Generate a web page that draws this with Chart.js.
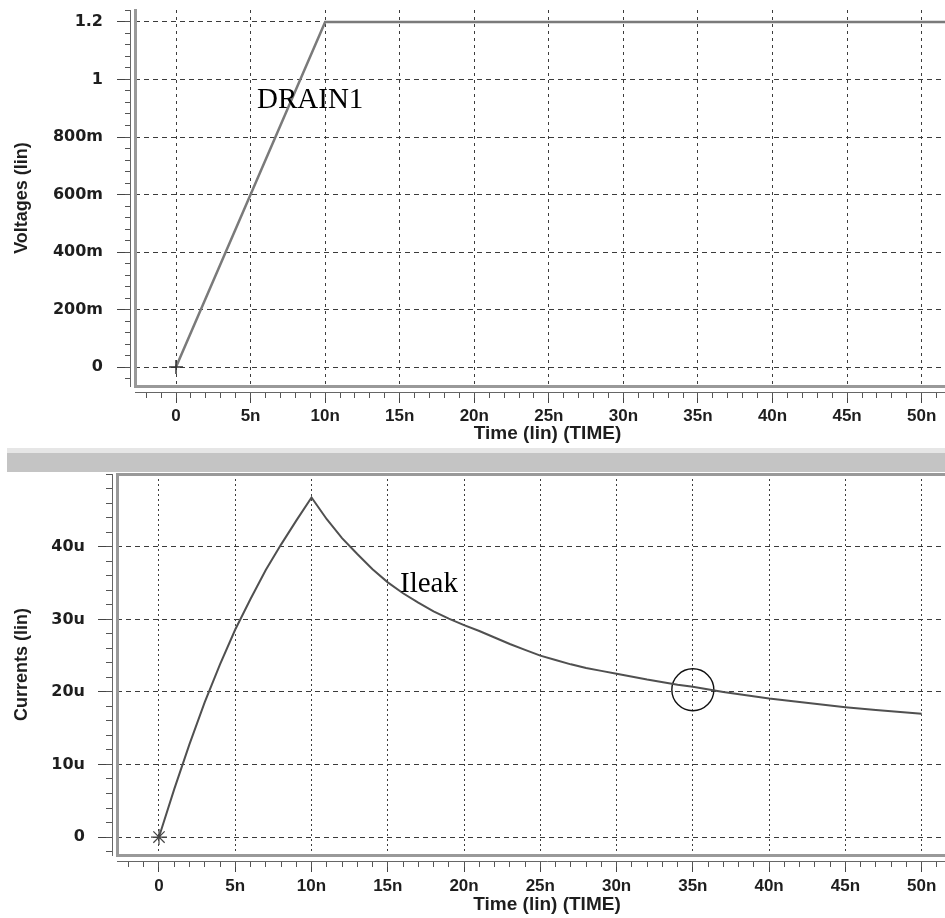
<!DOCTYPE html>
<html>
<head>
<meta charset="utf-8">
<script src="https://cdn.jsdelivr.net/npm/chart.js@4.4.1/dist/chart.umd.min.js"></script>
<style>
  html, body { margin: 0; padding: 0; background: #fff; overflow: hidden; }
  body { width: 945px; height: 918px; position: relative; }
  #top-chart { position: absolute; left: 0; top: 0; }
  #divider { position: absolute; left: 7px; top: 448px; width: 938px; height: 19px;
             background: #c4c4c4; border-top: 5px solid #e6e6e6; }
  #bottom-chart { position: absolute; left: 0; top: 472px; }
</style>
</head>
<body>
<canvas id="top-chart" width="960" height="448"></canvas>
<div id="divider"></div>
<canvas id="bottom-chart" width="977" height="446"></canvas>
<script>
// time axis, in ns
const timeTicks = [0, 5, 10, 15, 20, 25, 30, 35, 40, 45, 50];
const timeTickLabels = ['0', '5n', '10n', '15n', '20n', '25n', '30n', '35n', '40n', '45n', '50n'];

// top panel: DRAIN1 voltage (V)
const voltTicks = [0, 0.2, 0.4, 0.6, 0.8, 1, 1.2];
const voltTickLabels = ['0', '200m', '400m', '600m', '800m', '1', '1.2'];
const drainTime = [0, 10, 55];
const drainVolts = [0, 1.2, 1.2];

// bottom panel: Ileak current (uA)
const currTicks = [0, 10, 20, 30, 40];
const currTickLabels = ['0', '10u', '20u', '30u', '40u'];
const leakTime = [0, 1, 2, 3, 4, 5, 6, 7, 8, 9, 10, 11, 12, 13, 14, 15, 16, 17, 18, 19, 20,
                  21, 22, 23, 24, 25, 26, 27, 28, 29, 30, 32, 34, 35, 37, 40, 42, 45, 47, 50];
const leakCurrent = [0, 6.6, 12.8, 18.6, 23.8, 28.6, 32.8, 36.8, 40.3, 43.6, 46.8,
                     43.8, 41.2, 39.0, 36.9, 35.1, 33.6, 32.3, 31.1, 30.1, 29.2,
                     28.4, 27.5, 26.6, 25.8, 25.0, 24.4, 23.8, 23.3, 22.9, 22.5,
                     21.7, 21.0, 20.7, 20.0, 19.1, 18.6, 17.9, 17.5, 17.0];

// cursor circle on the current trace
const cursorTime = [35];
const cursorCurrent = [20.3];

// trace names written on the plot
const topNoteText = ['DRAIN1'];
const topNoteTime = [5.43];
const topNoteVolts = [0.9];
const bottomNoteText = ['Ileak'];
const bottomNoteTime = [15.8];
const bottomNoteCurrent = [33.8];

const xTickFont = { family: 'Liberation Sans', weight: 'bold', size: 17 };
const yTickFont = { family: 'DejaVu Sans', weight: 'bold', size: 16 };
const xTitleFont = { family: 'Liberation Sans', weight: 'bold', size: 19 };
const yTitleFont = { family: 'Liberation Sans', weight: 'bold', size: 18 };
const textColor = '#1e1e1e';
const gridColor = '#3c3c3c';
const frameColor = '#999';

function range(from, to, step) {
    const out = [];
    for (let v = from; v <= to + 1e-9; v += step) out.push(Math.round(v * 1000) / 1000);
    return out;
}

function toPoints(xs, ys) {
    return xs.map((x, i) => ({ x: x, y: ys[i] }));
}

function fixWidth(w) {
    return s => { s.width = w; s.paddingTop = 0; s.paddingBottom = 0; s.paddingLeft = 0; s.paddingRight = 0; };
}

function fixHeight(h) {
    return s => { s.height = h; s.paddingTop = 0; s.paddingBottom = 0; s.paddingLeft = 0; s.paddingRight = 0; };
}

function setTicks(values) {
    return s => { s.ticks = values.map(v => ({ value: v })); };
}

function notePlugin(texts, times, values) {
    return {
        id: 'notes',
        afterDatasetsDraw(chart) {
            const { ctx, scales } = chart;
            ctx.save();
            ctx.font = '29px "Liberation Serif"';
            ctx.fillStyle = '#000';
            ctx.textBaseline = 'alphabetic';
            texts.forEach((t, i) => {
                ctx.fillText(t, scales.x.getPixelForValue(times[i]), scales.y.getPixelForValue(values[i]));
            });
            ctx.restore();
        }
    };
}

/**
 * Axis set of one panel: frame line, axis line with minor ticks, major ticks with labels
 */
function buildScales(p) {
    const scales = {
        x: {
            type: 'linear', position: 'bottom', weight: 2, min: p.xMin, max: p.xMax,
            afterBuildTicks: setTicks(timeTicks),
            afterFit: fixHeight(p.xHeight),
            grid: { color: gridColor, lineWidth: 1, tickLength: 5, tickColor: '#444', tickWidth: 1 },
            border: { display: false, dash: p.xDash },
            ticks: { padding: p.xPad, color: textColor, font: xTickFont, maxRotation: 0, autoSkip: false,
                     callback: (v, i) => timeTickLabels[i] },
            title: { display: true, text: 'Time (lin) (TIME)', color: textColor, font: xTitleFont,
                     padding: { top: 0, bottom: p.titlePad } }
        },
        xMinor: {
            type: 'linear', position: 'bottom', weight: 1, min: p.xMin, max: p.xMax,
            afterBuildTicks: setTicks(range(-2, 52, 1)),
            afterFit: fixHeight(6),
            grid: { drawOnChartArea: false, tickLength: 6, tickColor: '#555', tickWidth: 1 },
            border: { display: true, color: '#666', width: 1 },
            ticks: { display: false }
        },
        xFrame: {
            type: 'linear', position: 'bottom', weight: 0, min: p.xMin, max: p.xMax,
            afterFit: fixHeight(6),
            grid: { drawOnChartArea: false, drawTicks: false },
            border: { display: true, color: frameColor, width: 3 },
            ticks: { display: false }
        },
        y: {
            type: 'linear', position: 'left', weight: 2, min: p.yMin, max: p.yMax,
            afterBuildTicks: setTicks(p.yTicks),
            afterFit: fixWidth(p.yWidth),
            grid: { color: gridColor, lineWidth: 1, tickLength: 8, tickColor: '#444', tickWidth: 1 },
            border: { display: false, dash: [5, 4] },
            ticks: { padding: p.yPad, color: textColor, font: yTickFont, autoSkip: false,
                     callback: (v, i) => p.yLabels[i] },
            title: { display: true, text: p.yTitle, color: textColor, font: yTitleFont,
                     padding: { top: 11, bottom: 0 } }
        },
        yMinor: {
            type: 'linear', position: 'left', weight: 1, min: p.yMin, max: p.yMax,
            afterBuildTicks: setTicks(p.yMinor),
            afterFit: fixWidth(p.yMinorWidth),
            grid: { drawOnChartArea: false, tickLength: p.yMinorWidth, tickColor: '#555', tickWidth: 1 },
            border: { display: true, color: '#666', width: 1 },
            ticks: { display: false }
        },
        yFrame: {
            type: 'linear', position: 'left', weight: 0, min: p.yMin, max: p.yMax,
            afterFit: fixWidth(5),
            grid: { drawOnChartArea: false, drawTicks: false },
            border: { display: true, color: frameColor, width: 3 },
            ticks: { display: false }
        }
    };
    if (p.topFrame) {
        scales.xTopFrame = {
            type: 'linear', position: 'top', min: p.xMin, max: p.xMax,
            afterFit: fixHeight(2),
            grid: { drawOnChartArea: false, drawTicks: false },
            border: { display: true, color: frameColor, width: 3 },
            ticks: { display: false }
        };
    }
    return scales;
}

const commonOptions = {
    responsive: false,
    animation: false,
    events: [],
    plugins: { legend: { display: false }, tooltip: { enabled: false } }
};

new Chart(document.getElementById('top-chart').getContext('2d'), {
    type: 'line',
    data: {
        datasets: [{
            label: 'DRAIN1',
            data: toPoints(drainTime, drainVolts),
            borderColor: '#7a7a7a',
            borderWidth: 2.5,
            tension: 0,
            pointStyle: 'cross',
            pointRadius: ctx => ctx.dataIndex === 0 ? 7 : 0,
            pointBorderColor: '#333',
            pointBorderWidth: 1.5
        }]
    },
    options: Object.assign({}, commonOptions, {
        layout: { autoPadding: false, padding: { top: 10, left: 0, right: 0, bottom: 0 } },
        scales: buildScales({
            xMin: -2.75, xMax: 52.57, xHeight: 50, xPad: 3, titlePad: 3, xDash: [3, 4],
            yMin: -0.066, yMax: 1.2417, yTicks: voltTicks, yLabels: voltTickLabels,
            yMinor: range(-0.04, 1.24, 0.04), yWidth: 125, yMinorWidth: 5, yPad: 14,
            yTitle: 'Voltages (lin)', topFrame: false
        })
    }),
    plugins: [notePlugin(topNoteText, topNoteTime, topNoteVolts)]
});

new Chart(document.getElementById('bottom-chart').getContext('2d'), {
    type: 'line',
    data: {
        datasets: [{
            label: 'Ileak',
            data: toPoints(leakTime, leakCurrent),
            borderColor: '#505050',
            borderWidth: 2,
            tension: 0,
            pointStyle: 'star',
            pointRadius: ctx => ctx.dataIndex === 0 ? 8 : 0,
            pointBorderColor: '#444',
            pointBorderWidth: 1.2
        }, {
            label: 'cursor',
            data: toPoints(cursorTime, cursorCurrent),
            showLine: false,
            pointStyle: 'circle',
            pointRadius: 21,
            pointBorderWidth: 1.4,
            pointBorderColor: '#111',
            pointBackgroundColor: 'rgba(0,0,0,0)'
        }]
    },
    options: Object.assign({}, commonOptions, {
        layout: { autoPadding: false, padding: 0 },
        scales: buildScales({
            xMin: -2.753, xMax: 53.63, xHeight: 51, xPad: 4, titlePad: 2, xDash: [2, 3],
            yMin: -2.474, yMax: 50.03, yTicks: currTicks, yLabels: currTickLabels,
            yMinor: range(-2, 50, 2), yWidth: 106, yMinorWidth: 6, yPad: 13,
            yTitle: 'Currents (lin)', topFrame: true
        })
    }),
    plugins: [notePlugin(bottomNoteText, bottomNoteTime, bottomNoteCurrent)]
});
</script>
</body>
</html>
